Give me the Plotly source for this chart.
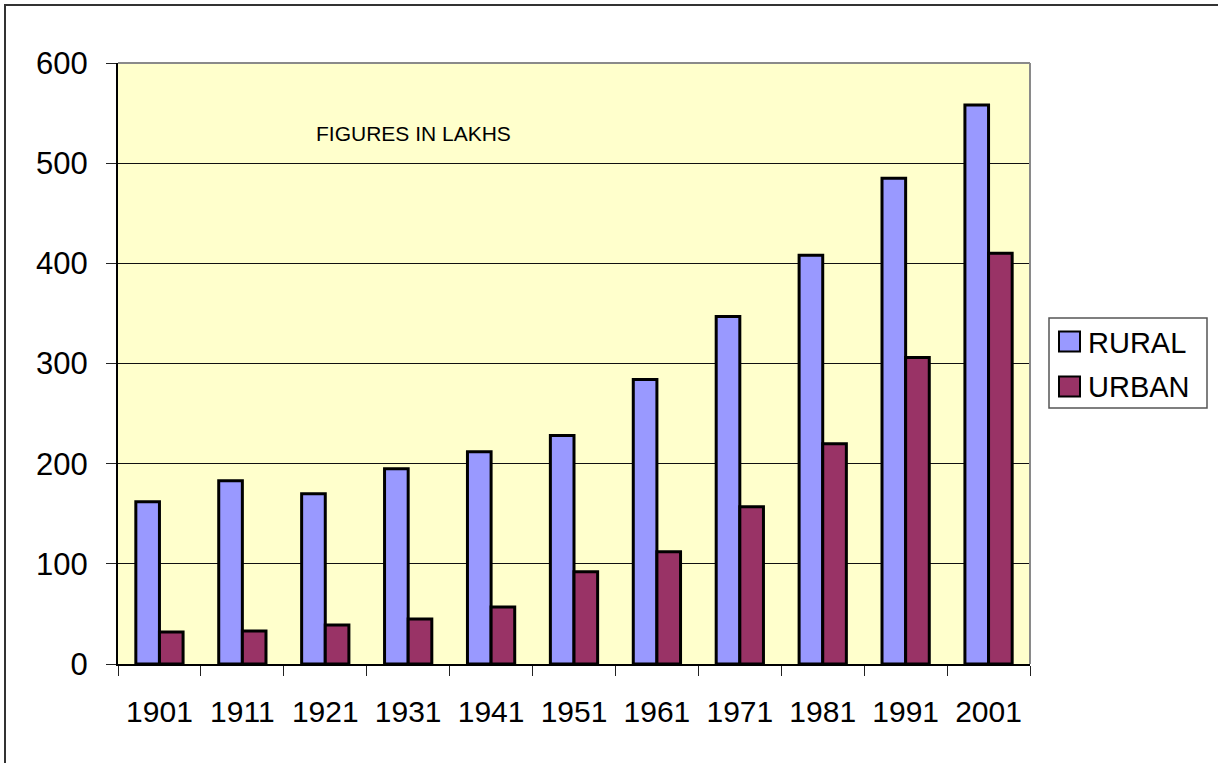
import plotly.graph_objects as go

years = ["1901", "1911", "1921", "1931", "1941", "1951", "1961", "1971", "1981", "1991", "2001"]
rural = [162, 183, 170, 195, 212, 228, 284, 347, 408, 485, 558]
urban = [32, 33, 39, 45, 57, 92, 112, 157, 220, 306, 410]
series_names = ["RURAL", "URBAN"]
series_colors = ["#9999FF", "#993366"]
y_ticks = [0, 100, 200, 300, 400, 500, 600]

W, H = 1218, 763
L, R, T, B = 118, 1030, 63, 664  # plot area in pixels


def px(x):
    return (x - L) / (R - L)


def py(y):
    return (B - y) / (B - T)


fig = go.Figure()
for name, vals, col in zip(series_names, [rural, urban], series_colors):
    fig.add_trace(go.Bar(
        x=years, y=vals, name=name,
        marker=dict(color=col, line=dict(color="black", width=3)),
        showlegend=False,
    ))

font_main = "Liberation Sans, Arial, sans-serif"

fig.update_layout(
    width=W, height=H,
    margin=dict(l=L, r=W - R, t=T, b=H - B, pad=0),
    paper_bgcolor="white",
    plot_bgcolor="#FFFFCC",
    barmode="group",
    bargap=0.43,
    bargroupgap=0,
    font=dict(family=font_main, color="black"),
    xaxis=dict(
        type="category",
        showline=True, linecolor="black", linewidth=1.5,
        ticks="outside", ticklen=10, tickwidth=1, tickcolor="#222",
        tickson="boundaries",
        tickfont=dict(size=30, family=font_main, color="black"),
        ticklabelstandoff=20,
        showgrid=False,
    ),
    yaxis=dict(
        range=[0, 600],
        tickvals=y_ticks,
        showline=True, linecolor="black", linewidth=2,
        ticks="outside", ticklen=10, tickwidth=1, tickcolor="#222",
        tickfont=dict(size=31, family=font_main, color="black"),
        ticklabelstandoff=12,
        showgrid=True, gridcolor="#111111", gridwidth=1,
        zeroline=False,
    ),
)

shapes = []
# plot area top/right border (gray)
shapes.append(dict(type="line", xref="paper", yref="paper", x0=0, x1=1, y0=1, y1=1,
                   line=dict(color="#8a8a8a", width=2), layer="above"))
shapes.append(dict(type="line", xref="paper", yref="paper", x0=1, x1=1, y0=0, y1=1,
                   line=dict(color="#8a8a8a", width=2), layer="above"))
# outer chart frame (extends beyond the visible page)
shapes.append(dict(type="rect", xref="paper", yref="paper",
                   x0=px(5), x1=px(1240), y0=py(790), y1=py(5),
                   line=dict(color="#333333", width=2), fillcolor="rgba(0,0,0,0)", layer="above"))
# legend box
shapes.append(dict(type="rect", xref="paper", yref="paper",
                   x0=px(1049), x1=px(1207), y0=py(408), y1=py(318),
                   line=dict(color="#555555", width=1.5), fillcolor="white", layer="above"))
legend_rows = [(331.5, 351.5, 342.5), (376.5, 396.5, 387.0)]
annotations = []
for (y0, y1, yc), name, col in zip(legend_rows, series_names, series_colors):
    shapes.append(dict(type="rect", xref="paper", yref="paper",
                       x0=px(1059), x1=px(1080), y0=py(y1), y1=py(y0),
                       line=dict(color="black", width=2), fillcolor=col, layer="above"))
    annotations.append(dict(xref="paper", yref="paper", x=px(1086), y=py(yc),
                            text=name, showarrow=False, xanchor="left", yanchor="middle",
                            font=dict(size=29, family=font_main, color="black")))

annotations.append(dict(xref="paper", yref="paper", x=px(413.5), y=py(133),
                        text="FIGURES IN LAKHS", showarrow=False,
                        xanchor="center", yanchor="middle",
                        font=dict(size=21, family=font_main, color="black")))

fig.update_layout(shapes=shapes, annotations=annotations)

fig.write_html("out.html",
               config={"displayModeBar": False},
               post_script="document.body.style.margin='0';document.body.style.overflow='hidden';")
